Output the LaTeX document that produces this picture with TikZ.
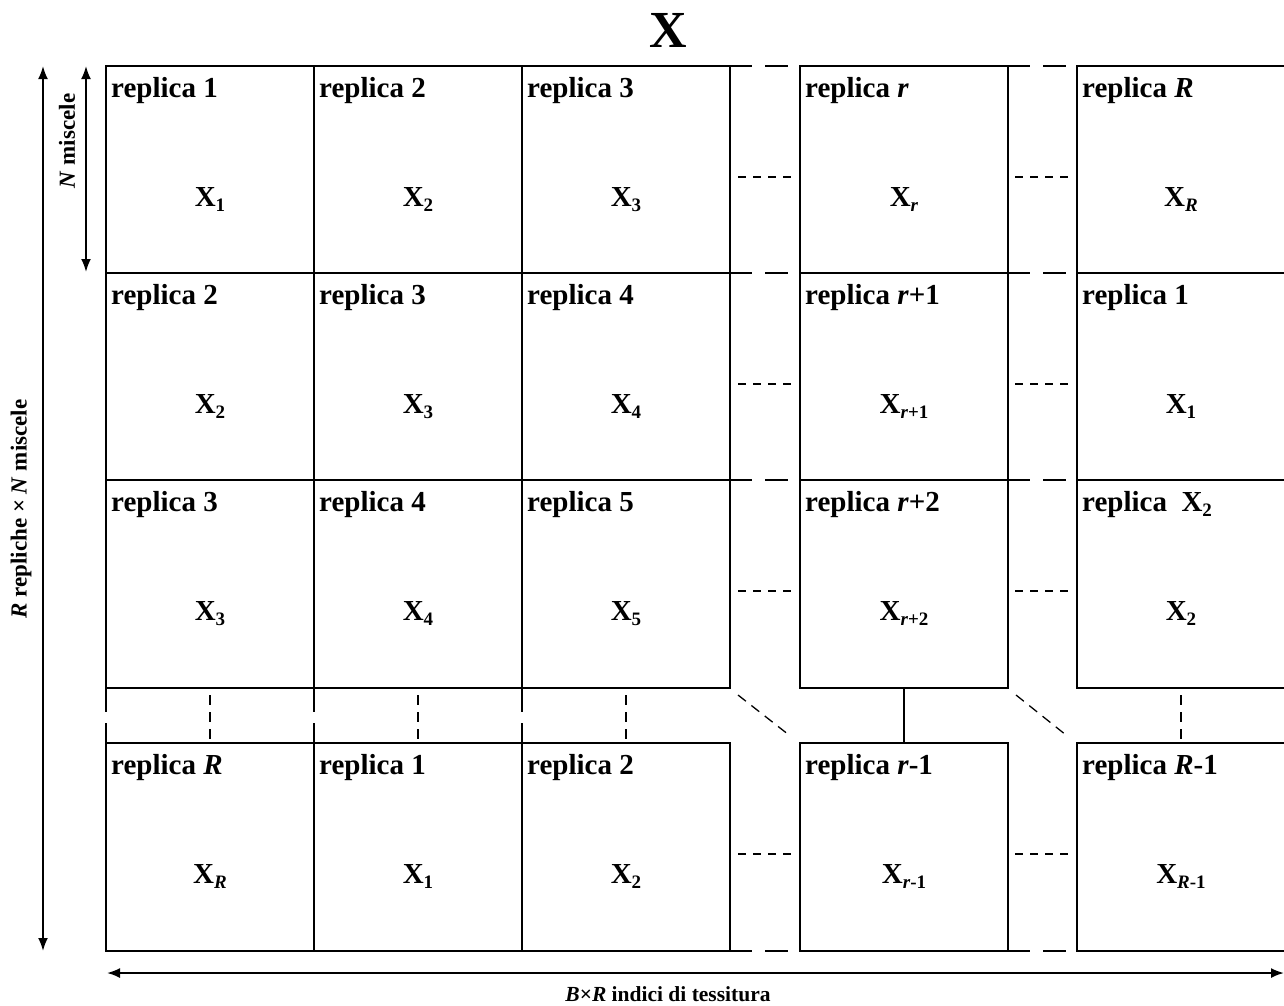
\documentclass[tikz,border=0pt]{standalone}
\usepackage{fontspec}
\setmainfont{Liberation Serif}
\usetikzlibrary{arrows.meta,calc}

\newcommand\rfont{\fontsize{29}{31}\selectfont\bfseries}
% bold X with a lowered, smaller index
\newcommand\Xs[1]{X\raisebox{-5pt}{\fontsize{19}{19}\selectfont #1}}
% one block of the matrix: frame, replica heading and block symbol
\newcommand\gridcell[6]{%
  \node[cell, minimum height=#4pt] (#1) at (#2,#3) {};
  \node[head] (#1h) at ($(#1.north west)+(5,31)$) {#5};
  \node[val]  (#1v) at ($(#1.north)+(0,140)$) {#6};
}

\begin{document}
\begin{tikzpicture}[x=1pt,y=-1pt,
  cell/.style={draw, line width=1.3pt, minimum width=208pt, anchor=north west,
               inner sep=0pt, outer sep=0pt},
  head/.style={anchor=base west, inner sep=0pt, font=\rfont},
  val/.style={anchor=base, inner sep=0pt, font=\rfont},
  gapline/.style={line width=1.3pt},
  hdash/.style={line width=1.3pt, dash pattern=on 8pt off 7pt},
  vdash/.style={line width=1.3pt, dash pattern=on 10pt off 7pt},
  dim/.style={line width=1.9pt, {Latex[length=13pt,width=10pt]}-{Latex[length=13pt,width=10pt]}},
  lab/.style={inner sep=0pt, font=\fontsize{23}{25}\selectfont\bfseries},
]
\useasboundingbox (0,0) rectangle (1284,1005);

% column 1
\gridcell{c11}{106}{66}{207}{replica 1}{\Xs{1}}
\gridcell{c12}{106}{273}{207}{replica 2}{\Xs{2}}
\gridcell{c13}{106}{480}{208}{replica 3}{\Xs{3}}
\gridcell{c14}{106}{743}{208}{replica \textit{R}}{\Xs{\textit{R}}}
% column 2
\gridcell{c21}{314}{66}{207}{replica 2}{\Xs{2}}
\gridcell{c22}{314}{273}{207}{replica 3}{\Xs{3}}
\gridcell{c23}{314}{480}{208}{replica 4}{\Xs{4}}
\gridcell{c24}{314}{743}{208}{replica 1}{\Xs{1}}
% column 3
\gridcell{c31}{522}{66}{207}{replica 3}{\Xs{3}}
\gridcell{c32}{522}{273}{207}{replica 4}{\Xs{4}}
\gridcell{c33}{522}{480}{208}{replica 5}{\Xs{5}}
\gridcell{c34}{522}{743}{208}{replica 2}{\Xs{2}}
% column r
\gridcell{cr1}{800}{66}{207}{replica \textit{r}}{\Xs{\textit{r}}}
\gridcell{cr2}{800}{273}{207}{replica \textit{r}+1}{\Xs{\textit{r}+1}}
\gridcell{cr3}{800}{480}{208}{replica \textit{r}+2}{\Xs{\textit{r}+2}}
\gridcell{cr4}{800}{743}{208}{replica \textit{r}-1}{\Xs{\textit{r}-1}}
% column R
\gridcell{cR1}{1077}{66}{207}{replica \textit{R}}{\Xs{\textit{R}}}
\gridcell{cR2}{1077}{273}{207}{replica 1}{\Xs{1}}
\gridcell{cR3}{1077}{480}{208}{replica~~\Xs{2}}{\Xs{2}}
\gridcell{cR4}{1077}{743}{208}{replica \textit{R}-1}{\Xs{\textit{R}-1}}

% skipped columns: dashed links inside each block row
\foreach \i in {1,2,3,4}{
  \draw[hdash] ($(c3\i.north east)+(8,111)$) -- ($(cr\i.north west)+(-5,111)$);
  \draw[hdash] ($(cr\i.north east)+(7,111)$) -- ($(cR\i.north west)+(-4,111)$);
}
% broken border lines across the skipped columns
\foreach \a/\b in {c31.north east/cr1.north east, c32.north east/cr2.north east,
                   c33.north east/cr3.north east, c34.south east/cr4.south east}{
  \draw[gapline] (\a) -- ++(22,0) ++(13,0) -- ++(23,0);
  \draw[gapline] (\b) -- ++(22,0) ++(13,0) -- ++(23,0);
}

% skipped rows
\foreach \c in {1,2,3}{
  \draw[gapline] (c\c3.south west) -- ++(0,24) ++(0,11) -- (c\c4.north west);
  \draw[vdash] ($(c\c3.south)+(0,7)$) -- ($(c\c4.north)+(0,-3)$);
}
\draw[gapline] (cr3.south) -- (cr4.north);
\draw[vdash] ($(cR3.south)+(0,7)$) -- ($(cR4.north)+(0,-3)$);
\draw[gapline, dash pattern=on 10pt off 7pt] ($(c33.south east)+(8,7)$) -- ($(cr4.north west)+(-11,-8)$);
\draw[gapline, dash pattern=on 10pt off 7pt] ($(cr3.south east)+(8,7)$) -- ($(cR4.north west)+(-11,-8)$);

% dimension arrows
\coordinate (ltop) at (43,66);
\coordinate (lbot) at (43,951);
\coordinate (ntop) at (86,66);
\coordinate (nbot) at (86,272);
\coordinate (bl) at (107,973);
\coordinate (br) at (1284,973);
\draw[dim] (ltop) -- (lbot);
\draw[dim] (ntop) -- (nbot);
\draw[dim] (bl) -- (br);

% titles
\node[anchor=base, inner sep=0pt, font=\fontsize{52}{54}\selectfont\bfseries] (title) at (668,47) {X};
\node[lab, rotate=90] (rows) at (21,509) {\textit{R} repliche × \textit{N} miscele};
\node[lab, rotate=90] (nlab) at (67,141) {\textit{N} miscele};
\node[lab, anchor=base, font=\fontsize{21.5}{23}\selectfont\bfseries] (cols) at (668,1001) {\textit{B}×\textit{R} indici di tessitura};
\end{tikzpicture}
\end{document}
